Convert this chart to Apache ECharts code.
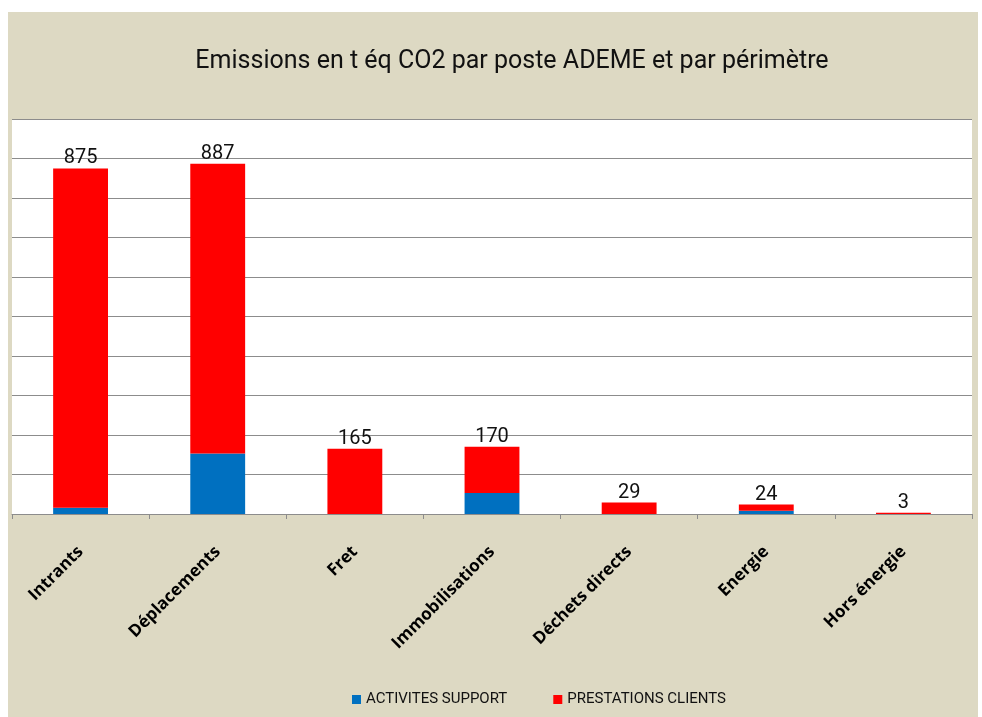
<!DOCTYPE html>
<html>
<head>
<meta charset="utf-8">
<script src="https://cdn.jsdelivr.net/npm/echarts@6/dist/echarts.min.js"></script>
<style>
  html, body { margin: 0; padding: 0; background: #fff; }
  #wrap { position: relative; width: 982px; height: 717px; background: #fff; }
  #chart { position: absolute; left: 8px; top: 12px; width: 970px; height: 705px; }
</style>
</head>
<body>
<div id="wrap"><div id="chart"></div></div>
<script>
const categories = ['Intrants', 'Déplacements', 'Fret', 'Immobilisations', 'Déchets directs', 'Energie', 'Hors énergie']
const support = [16, 153, 0, 53, 0, 8, 0]
const clients = [859, 734, 165, 117, 29, 16, 3]
const totals = [875, 887, 165, 170, 29, 24, 3]

const chart = echarts.init(document.getElementById('chart'))

const option = {
  backgroundColor: '#DDD9C3',
  animation: false,
  title: {
    text: 'Emissions en t éq CO2 par poste ADEME et par périmètre',
    left: 499,
    textAlign: 'center',
    top: 32,
    textStyle: {
      fontFamily: 'Roboto',
      fontWeight: 'normal',
      fontSize: 25,
      color: '#111'
    }
  },
  grid: {
    show: true,
    left: 4,
    top: 107,
    width: 960,
    height: 395,
    backgroundColor: '#fff',
    borderWidth: 0
  },
  legend: {
    top: 675,
    left: 339,
    itemWidth: 9,
    itemHeight: 9,
    itemGap: 46,
    icon: 'rect',
    textStyle: {
      fontFamily: 'Roboto',
      fontSize: 15,
      color: '#111'
    },
    data: ['ACTIVITES SUPPORT', 'PRESTATIONS CLIENTS']
  },
  xAxis: {
    type: 'category',
    data: categories,
    axisLine: { lineStyle: { color: '#8c8c8c', width: 1 } },
    axisTick: { show: true, length: 5, lineStyle: { color: '#8c8c8c' } },
    axisLabel: {
      rotate: 45,
      margin: 35,
      interval: 0,
      fontFamily: 'Open Sans',
      fontWeight: 'bold',
      fontSize: 17,
      color: '#000'
    }
  },
  yAxis: {
    type: 'value',
    min: 0,
    max: 1000,
    interval: 100,
    axisLabel: { show: false },
    axisLine: { show: false },
    axisTick: { show: false },
    splitLine: { lineStyle: { color: '#8c8c8c', width: 1 } }
  },
  series: [
    {
      name: 'ACTIVITES SUPPORT',
      type: 'bar',
      stack: 'total',
      barWidth: '40%',
      itemStyle: { color: '#0070C0' },
      data: support
    },
    {
      name: 'PRESTATIONS CLIENTS',
      type: 'bar',
      stack: 'total',
      barWidth: '40%',
      itemStyle: { color: '#FF0000' },
      label: {
        show: true,
        position: 'top',
        distance: 0,
        fontFamily: 'Roboto',
        fontSize: 20,
        color: '#111',
        formatter: p => totals[p.dataIndex]
      },
      data: clients
    }
  ]
}

chart.setOption(option)
</script>
</body>
</html>
